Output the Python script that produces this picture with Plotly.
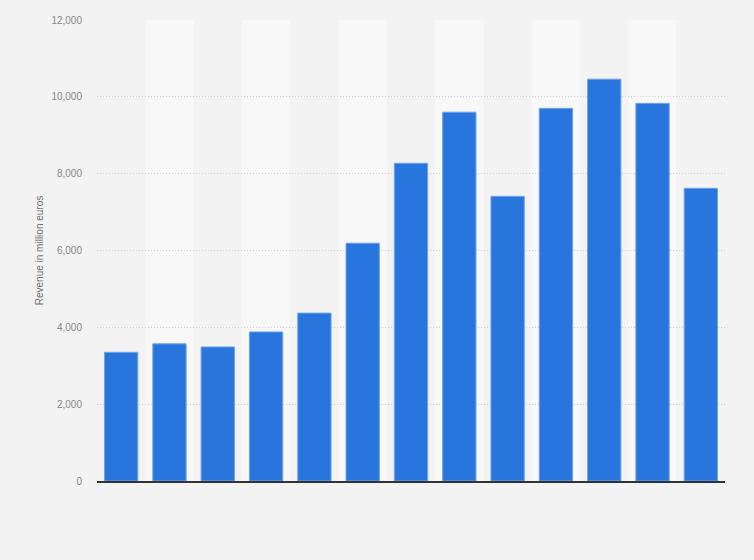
import plotly.graph_objects as go

categories = ["1", "2", "3", "4", "5", "6", "7", "8", "9", "10", "11", "12", "13"]
revenue = [3350, 3570, 3490, 3880, 4370, 6190, 8270, 9600, 7410, 9700, 10460, 9830, 7620]
y_ticks = [0, 2000, 4000, 6000, 8000, 10000, 12000]
y_tick_labels = ["0", "2,000", "4,000", "6,000", "8,000", "10,000", "12,000"]

fig = go.Figure()
fig.add_trace(go.Bar(
    x=categories, y=revenue,
    marker=dict(color="#2876dd", line=dict(color="#6fa3ea", width=1)),
    hoverinfo="x+y",
))

shapes = []
for i in range(len(categories)):
    if i % 2 == 1:
        shapes.append(dict(type="rect", xref="x", yref="paper",
                           x0=i - 0.5, x1=i + 0.5, y0=0, y1=1,
                           fillcolor="#f8f8f8", line=dict(width=0), layer="below"))

fig.update_layout(
    width=754, height=560,
    margin=dict(l=97, r=29, t=20, b=79),
    paper_bgcolor="#f3f3f3", plot_bgcolor="#f3f3f3",
    bargap=0.31,
    shapes=shapes,
    showlegend=False,
    font=dict(family="Liberation Sans, Arial, sans-serif", color="#666666"),
    xaxis=dict(
        showticklabels=False, ticks="", showgrid=False,
        showline=True, linecolor="#333333", linewidth=1.5,
        range=[-0.5, len(categories) - 0.5], zeroline=False,
    ),
    yaxis=dict(
        range=[0, 12000], tickvals=y_ticks, ticktext=y_tick_labels,
        tickfont=dict(size=10, color="#888888"),
        showgrid=True, gridcolor="#d0d0d0", griddash="1px,2px", gridwidth=1,
        zeroline=False, ticks="", ticklabelstandoff=14,
        title=dict(text="Revenue in million euros", font=dict(size=10, color="#707070"), standoff=5),
    ),
)

fig.write_html("out.html", config={"displayModeBar": False},
               post_script="document.body.style.margin='0';document.body.style.background='#f3f3f3';")
